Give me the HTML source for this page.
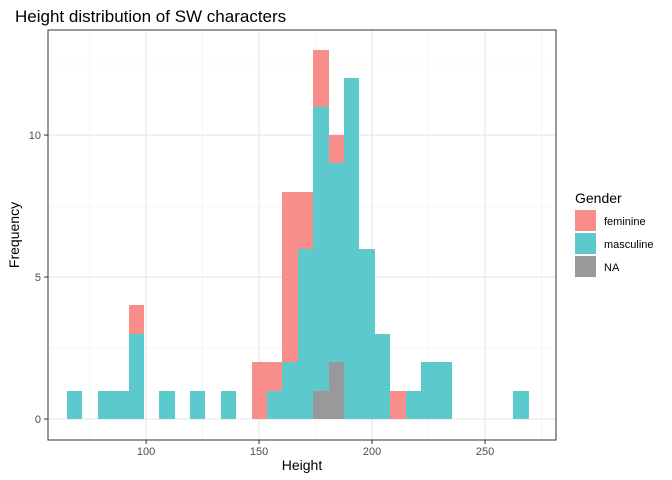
<!DOCTYPE html>
<html><head><meta charset="utf-8"><style>body{margin:0;background:#fff}svg{display:block;font-family:"Liberation Sans",Arial,sans-serif}#bars rect{shape-rendering:crispEdges}</style></head>
<body>
<svg id="c" width="672" height="480">
<text x="15" y="22" font-size="17" fill="#000">Height distribution of SW characters</text>
<g id="grid"></g><g id="bars"></g><g id="axes"></g>
<text x="302" y="470" font-size="14" text-anchor="middle">Height</text>
<text transform="translate(19,235) rotate(-90)" font-size="14" text-anchor="middle">Frequency</text>
<g id="legend"></g>
</svg>
<script>
const binStart = 65.0;
const binWidth = 6.81;
const feminine = [0,0,0,0,1,0,0,0,0,0,0,0,2,1,6,2,2,1,0,0,0,1,0,0,0,0,0,0,0,0];
const masculine = [1,0,1,1,3,0,1,0,1,0,1,0,0,1,2,6,10,7,12,6,3,0,1,2,2,0,0,0,0,1];
const naGender = [0,0,0,0,0,0,0,0,0,0,0,0,0,0,0,0,1,2,0,0,0,0,0,0,0,0,0,0,0,0];
const xTicks = [100,150,200,250];
const xMinor = [75,125,175,225,275];
const yTicks = [0,5,10];
const yMinor = [2.5,7.5,12.5];
const xDomain = [56.6,281.4];
const yDomain = [-0.74,13.7];
const L=48,R=556,T=30,B=440;
const NS="http://www.w3.org/2000/svg";
const sx=v=>L+(v-xDomain[0])/(xDomain[1]-xDomain[0])*(R-L);
const sy=v=>B-(v-yDomain[0])/(yDomain[1]-yDomain[0])*(B-T);
function mk(tag,attrs,parent){const e=document.createElementNS(NS,tag);for(const k in attrs)e.setAttribute(k,attrs[k]);document.getElementById(parent).appendChild(e);return e;}
mk('rect',{x:L,y:T,width:R-L,height:B-T,fill:'#fff'},'grid');
xMinor.forEach(v=>{const l=mk('line',{x1:sx(v),x2:sx(v),y1:T,y2:B,stroke:'#f0f0f0','stroke-width':0.6},'grid');

});
yMinor.forEach(v=>{const l=mk('line',{x1:L,x2:R,y1:sy(v),y2:sy(v),stroke:'#f0f0f0','stroke-width':0.6},'grid');

});
xTicks.forEach(v=>{const l=mk('line',{x1:sx(v),x2:sx(v),y1:T,y2:B,stroke:'#e6e6e6','stroke-width':1.1},'grid');

});
yTicks.forEach(v=>{const l=mk('line',{x1:L,x2:R,y1:sy(v),y2:sy(v),stroke:'#e6e6e6','stroke-width':1.1},'grid');

});
const series=[[naGender,'#999999','bar-na'],[masculine,'#5CC9CC','bar-masculine'],[feminine,'#F78E89','bar-feminine']];
const base=new Array(feminine.length).fill(0);
series.forEach(([arr,col,name])=>{arr.forEach((c,i)=>{if(!c)return;const x0=Math.round(sx(binStart+i*binWidth)),x1=Math.round(sx(binStart+(i+1)*binWidth));
const y0=base[i],y1=base[i]+c;base[i]=y1;
const yt=Math.round(sy(y1)),yb=Math.round(sy(y0));
const r=mk('rect',{x:x0,y:yt,width:x1-x0,height:yb-yt,fill:col},'bars');

});});
const fr=mk('rect',{x:L,y:T,width:R-L,height:B-T,fill:'none',stroke:'#333','stroke-width':1},'axes');


xTicks.forEach(v=>{mk('line',{x1:sx(v),x2:sx(v),y1:B,y2:B+4,stroke:'#333'},'axes');
const t=mk('text',{x:sx(v),y:B+15,'font-size':11,fill:'#4d4d4d','text-anchor':'middle'},'axes');t.textContent=v;

});
yTicks.forEach(v=>{mk('line',{x1:L-4,x2:L,y1:sy(v),y2:sy(v),stroke:'#333'},'axes');
const t=mk('text',{x:L-7,y:sy(v)+4,'font-size':11,fill:'#4d4d4d','text-anchor':'end'},'axes');t.textContent=v;

});
const lt=mk('text',{x:575,y:203,'font-size':14},'legend');lt.textContent='Gender';


[['feminine','#F78E89'],['masculine','#5CC9CC'],['NA','#999999']].forEach(([lab,col],i)=>{
const y=210+i*23;
const k=mk('rect',{x:575,y:y,width:21,height:21,fill:col},'legend');


const t=mk('text',{x:604,y:y+15,'font-size':11},'legend');t.textContent=lab;

});
</script>
</body></html>
